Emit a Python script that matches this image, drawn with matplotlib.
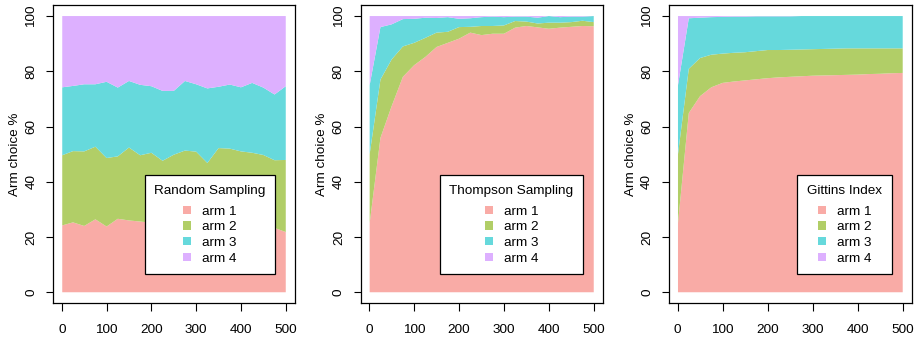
import matplotlib
matplotlib.use("Agg")
import matplotlib.pyplot as plt
from matplotlib.patches import Patch

plt.rcParams['font.family'] = ['Liberation Sans', 'DejaVu Sans']

steps = [1] + list(range(25, 501, 25))
arm_labels = ["arm 1", "arm 2", "arm 3", "arm 4"]
arm_colors = ["#F9ABA6", "#B1CE67", "#66D9DC", "#DDB0FF"]
x_ticks = [0, 100, 200, 300, 400, 500]
y_ticks = [0, 20, 40, 60, 80, 100]
y_label = "Arm choice %"

# Random Sampling (% per arm)
rs_arm1 = [24.2, 25.3, 24.0, 26.4, 23.8, 26.6, 26.0, 25.6, 25.2, 24.8, 25.4,
           24.6, 25.0, 24.4, 25.2, 24.8, 25.4, 24.6, 23.8, 23.3, 21.8]
rs_arm2 = [25.4, 25.8, 27.0, 26.3, 24.8, 22.6, 26.4, 24.0, 25.3, 22.8, 24.4,
           26.7, 25.9, 22.4, 27.0, 27.2, 25.6, 25.9, 25.9, 24.5, 26.1]
rs_arm3 = [24.6, 23.6, 24.3, 22.6, 27.6, 24.9, 24.1, 25.5, 24.1, 25.3, 23.1,
           25.2, 24.4, 27.0, 22.2, 23.2, 23.2, 25.3, 24.4, 23.8, 26.7]
rs_arm4 = [25.8, 25.3, 24.7, 24.7, 23.8, 25.9, 23.5, 24.9, 25.4, 27.1, 27.1,
           23.5, 24.7, 26.2, 25.6, 24.8, 25.8, 24.2, 25.9, 28.4, 25.4]

# Thompson Sampling
ts_arm1 = [25.0, 55.9, 67.4, 78.0, 82.2, 85.2, 88.8, 90.3, 91.8, 94.0, 93.1,
           93.6, 93.6, 95.8, 96.4, 95.9, 95.4, 95.8, 96.1, 96.4, 96.3]
ts_arm2 = [25.0, 21.1, 16.9, 11.0, 8.1, 6.9, 5.2, 4.0, 4.2, 2.1, 3.3,
           2.8, 3.0, 2.4, 1.6, 1.4, 2.2, 1.8, 1.7, 1.9, 1.5]
ts_arm3 = [25.0, 19.0, 12.7, 9.9, 8.7, 7.3, 5.3, 5.3, 3.0, 3.1, 3.2,
           3.4, 3.0, 1.6, 1.8, 2.1, 2.4, 2.0, 2.0, 1.5, 2.2]
ts_arm4 = [25.0, 4.0, 3.0, 1.1, 1.0, 0.6, 0.7, 0.4, 1.0, 0.8, 0.4,
           0.2, 0.4, 0.2, 0.2, 0.6, 0.0, 0.4, 0.2, 0.2, 0.0]

# Gittins Index
gi_arm1 = [25.0, 64.9, 71.0, 74.2, 75.8, 76.3, 76.7, 77.1, 77.5, 77.8, 78.0,
           78.2, 78.4, 78.5, 78.6, 78.7, 78.8, 79.0, 79.1, 79.3, 79.4]
gi_arm2 = [25.0, 16.0, 13.8, 11.8, 10.6, 10.4, 10.2, 10.2, 10.2, 9.9, 9.8,
           9.7, 9.6, 9.6, 9.6, 9.6, 9.5, 9.3, 9.2, 9.0, 8.9]
gi_arm3 = [25.0, 18.3, 14.6, 13.6, 13.3, 13.1, 12.9, 12.6, 12.2, 12.2, 12.1,
           12.1, 12.0, 11.9, 11.8, 11.7, 11.7, 11.7, 11.7, 11.7, 11.7]
gi_arm4 = [25.0, 0.8, 0.6, 0.4, 0.3, 0.2, 0.2, 0.1, 0.1, 0.1, 0.1,
           0.0, 0.0, 0.0, 0.0, 0.0, 0.0, 0.0, 0.0, 0.0, 0.0]

panels = [
    ("Random Sampling", [rs_arm1, rs_arm2, rs_arm3, rs_arm4]),
    ("Thompson Sampling", [ts_arm1, ts_arm2, ts_arm3, ts_arm4]),
    ("Gittins Index", [gi_arm1, gi_arm2, gi_arm3, gi_arm4]),
]

W, H = 915, 340
fig = plt.figure(figsize=(W / 100, H / 100), dpi=100)
box_px = [(53.3, 294.7), (360.7, 602.7), (669.0, 911.7)]
top_px, bot_px = 5.0, 303.3
legend_right_px = [275.3, 583.3, 891.7]
legend_bottom_px = 274.3

FS = 9.7
for i, (title, arms) in enumerate(panels):
    l, r = box_px[i]
    ax = fig.add_axes([l / W, 1 - bot_px / H, (r - l) / W, (bot_px - top_px) / H])
    ax.stackplot(steps, *arms, colors=arm_colors, linewidth=0)
    ax.set_xlim(-18.96, 519.96)
    ax.set_ylim(-4, 104)
    ax.set_xticks(x_ticks)
    ax.set_yticks(y_ticks)
    ax.tick_params(axis='both', direction='out', length=5.4, width=0.8,
                   labelsize=FS, color='black')
    ax.tick_params(axis='x', pad=9.5)
    ax.tick_params(axis='y', pad=6, labelrotation=90)
    for lab in ax.get_yticklabels():
        lab.set_va('center')
    for s in ax.spines.values():
        s.set_linewidth(0.9)
        s.set_color('black')
    ax.set_ylabel(y_label, fontsize=FS)
    ax.yaxis.label.set_va('center')
    ax.yaxis.set_label_coords(-38.5 / (r - l), 0.5)

    handles = [Patch(facecolor=c, edgecolor='none') for c in arm_colors]
    ax_w = r - l
    ax_h = bot_px - top_px
    anchor = ((legend_right_px[i] - l) / ax_w, (bot_px - legend_bottom_px) / ax_h)
    leg = ax.legend(handles, arm_labels, title=title, loc='lower right',
                    bbox_to_anchor=anchor, borderaxespad=0, fontsize=FS,
                    title_fontsize=FS, fancybox=False, framealpha=1,
                    edgecolor='black', borderpad=0.72, labelspacing=0.27,
                    handlelength=0.6, handleheight=0.6, handletextpad=0.8)
    leg._legend_box.sep = 6.5
    leg.get_frame().set_linewidth(0.9)

fig.savefig("out.png", dpi=100)
